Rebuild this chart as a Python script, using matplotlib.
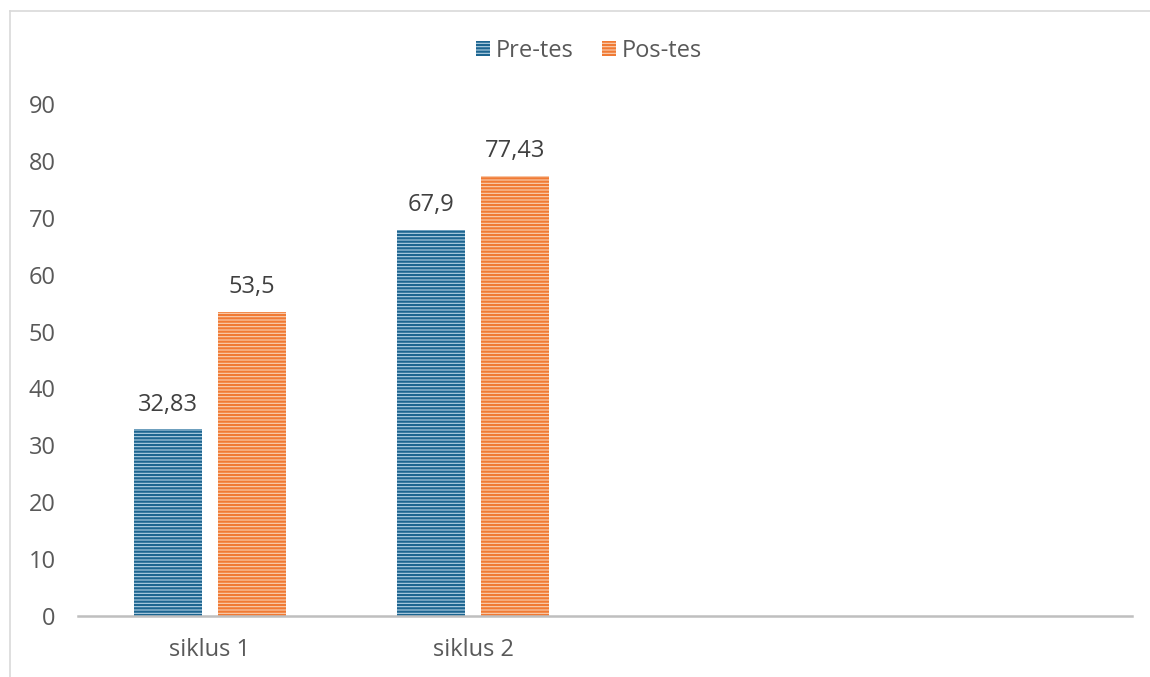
import matplotlib
matplotlib.use("Agg")
import matplotlib.pyplot as plt
from matplotlib.lines import Line2D
import numpy as np

categories = ["siklus 1", "siklus 2", "", ""]
pre_tes = [32.83, 67.9, None, None]
pos_tes = [53.5, 77.43, None, None]
pre_labels = ["32,83", "67,9"]
pos_labels = ["53,5", "77,43"]
series_names = ["Pre-tes", "Pos-tes"]
yticks = [0, 10, 20, 30, 40, 50, 60, 70, 80, 90]

plt.rcParams['font.family'] = ['Open Sans', 'DejaVu Sans']
plt.rcParams['hatch.linewidth'] = 1.6

FS = 17
W, H = 1150, 677
fig = plt.figure(figsize=(W/100, H/100), dpi=100)
ax = fig.add_axes([78/W, (H-616)/H, (1132-78)/W, (616-104)/H])

x = np.arange(len(categories))
bw = 68/263.5
off = 42/263.5

blue_dark, blue_light = "#1C6590", "#B3D1E4"
or_dark, or_light = "#F07A34", "#FAD0B4"

n = 2
xs = x[:n]
b1 = ax.bar(xs - off, pre_tes[:n], bw, color=blue_light, edgecolor=blue_dark,
            hatch="-----", linewidth=0, label=series_names[0])
b2 = ax.bar(xs + off, pos_tes[:n], bw, color=or_light, edgecolor=or_dark,
            hatch="-----", linewidth=0, label=series_names[1])

for xi, v, lab in zip(xs - off, pre_tes[:n], pre_labels):
    ax.text(xi, v + 4.3, lab, ha="center", va="center", fontsize=FS, color="#404040")
for xi, v, lab in zip(xs + off, pos_tes[:n], pos_labels):
    ax.text(xi, v + 4.3, lab, ha="center", va="center", fontsize=FS, color="#404040")

ax.set_xlim(-0.5, len(categories) - 0.5)
ax.set_ylim(0, 90)
ax.set_yticks(yticks)
ax.set_yticklabels([str(t) for t in yticks], fontsize=FS, color="#595959")
ax.set_xticks(x)
ax.set_xticklabels(categories, fontsize=FS, color="#595959")
ax.tick_params(axis="both", length=0)
ax.tick_params(axis="y", pad=16)
ax.tick_params(axis="x", pad=16)
for s in ["top", "right", "left"]:
    ax.spines[s].set_visible(False)
ax.spines["bottom"].set_color("#BFBFBF")
ax.spines["bottom"].set_linewidth(1.8)

leg = fig.legend(handles=[b1, b2], labels=series_names, loc="center",
                 bbox_to_anchor=(589/W, (H-51)/H), ncol=2, frameon=False,
                 fontsize=FS, labelcolor="#595959", handlelength=0.6,
                 handleheight=0.6, handletextpad=0.25, columnspacing=1.2)

# outer chart frame (partially visible)
fig.add_artist(Line2D([9.5/W, 9.5/W], [0, (H-11)/H], color="#D9D9D9", lw=1.2))
fig.add_artist(Line2D([9.5/W, 1], [(H-11)/H, (H-11)/H], color="#D9D9D9", lw=1.2))

fig.savefig("out.png", dpi=100, facecolor="white")
